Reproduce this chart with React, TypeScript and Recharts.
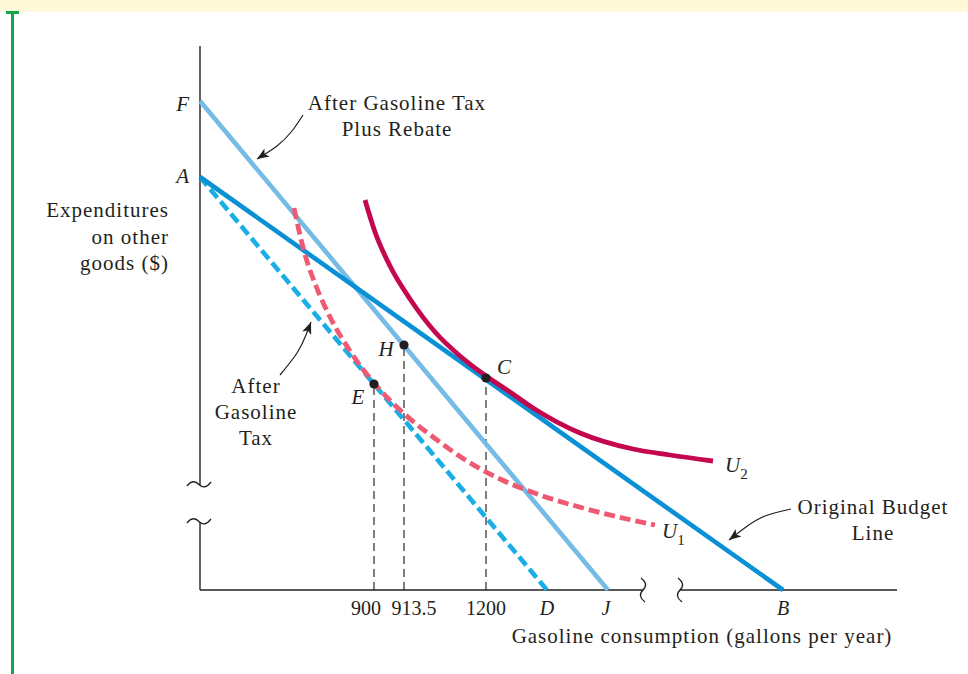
import React from 'react';
import { ComposedChart, Line, Scatter, XAxis, YAxis, Label } from 'recharts';

type Pt = { x: number; y: number };

// Schematic units read off the figure (the axes carry no real scale):
// x grows to the right from the vertical axis, y grows upward from the horizontal axis.
const originalBudgetLine: Pt[] = [{ x: 0, y: 413 }, { x: 583, y: 0 }];
const afterTaxLine: Pt[] = [{ x: 0, y: 413 }, { x: 347, y: 0 }];
const taxRebateLine: Pt[] = [{ x: 0, y: 489 }, { x: 408, y: 0 }];

const u2Curve: Pt[] = [
  { x: 165, y: 390 }, { x: 175, y: 358 }, { x: 190, y: 324 }, { x: 210, y: 291 },
  { x: 235, y: 258 }, { x: 260, y: 234 }, { x: 286, y: 214 }, { x: 310, y: 198 },
  { x: 333, y: 182 }, { x: 380, y: 157 }, { x: 433, y: 141 }, { x: 470, y: 135 },
  { x: 513, y: 129 },
];

const u1Curve: Pt[] = [
  { x: 94, y: 382 }, { x: 104, y: 339 }, { x: 116, y: 304 }, { x: 130, y: 273 },
  { x: 150, y: 239 }, { x: 174, y: 207 }, { x: 200, y: 180 }, { x: 233, y: 153 },
  { x: 267, y: 129 }, { x: 300, y: 111 }, { x: 340, y: 95 }, { x: 383, y: 82 },
  { x: 427, y: 71 }, { x: 455, y: 65 },
];

const choicePoints = [
  { x: 174, y: 206, name: 'E' },
  { x: 204, y: 245, name: 'H' },
  { x: 286, y: 212, name: 'C' },
];

const xTickValues = [174, 204, 286, 347, 408, 583];
const xTickLabels = ['900', '913.5', '1200', 'D', 'J', 'B'];
const yTickValues = [413, 489];
const yTickLabels = ['A', 'F'];

// broken axes
const yAxisUpper: Pt[] = [{ x: 0, y: 105 }, { x: 0, y: 544 }];
const yAxisLower: Pt[] = [{ x: 0, y: 0 }, { x: 0, y: 68 }];
const xAxisLeft: Pt[] = [{ x: 0, y: 0 }, { x: 443, y: 0 }];
const xAxisRight: Pt[] = [{ x: 480, y: 0 }, { x: 697, y: 0 }];
const yBreaks: Pt[] = [{ x: 0, y: 105 }, { x: 0, y: 68 }];
const xBreaks: Pt[] = [{ x: 443, y: 0 }, { x: 480, y: 0 }];

// annotations
const notes = [
  { x: 197, y: 480, lines: ['After Gasoline Tax', 'Plus Rebate'] },
  { x: 56, y: 197, lines: ['After', 'Gasoline', 'Tax'] },
  { x: 673, y: 76, lines: ['Original Budget', 'Line'] },
];
const curveLabels = [
  { x: 525, y: 118, name: '2' },
  { x: 462, y: 52, name: '1' },
];
const rebateArrow: Pt[] = [{ x: 103, y: 475 }, { x: 92, y: 459 }, { x: 77, y: 444 }, { x: 57, y: 431 }];
const taxArrow: Pt[] = [{ x: 80, y: 215 }, { x: 97, y: 237 }, { x: 106, y: 255 }, { x: 111, y: 268 }];
const budgetArrow: Pt[] = [{ x: 591, y: 81 }, { x: 565, y: 74 }, { x: 546, y: 63 }, { x: 529, y: 50 }];

const INK = '#231F20';
const SERIF = '"Liberation Serif", "Times New Roman", serif';
const wordStyle = { fontFamily: SERIF, fontSize: 21, letterSpacing: 1 };
const LINE_H = 26;

const xTickNudge: Record<string, number> = { '900': -8, '913.5': 10, J: -2 };
const yTickNudge: Record<string, number> = { A: 6, F: 10 };
const pointLabelOffset: Record<string, [number, number]> = {
  H: [-18, 11],
  E: [-16, 20],
  C: [18, -4],
};

const XTick = (p: any) => {
  const label = xTickLabels[xTickValues.indexOf(p.payload.value)] ?? '';
  const italic = /[A-Z]/.test(label);
  return (
    <text
      x={p.x + (xTickNudge[label] ?? 0)}
      y={p.y + 25}
      textAnchor="middle"
      fill={INK}
      style={{ fontFamily: SERIF, fontSize: 20, fontStyle: italic ? 'italic' : 'normal' }}
    >
      {label}
    </text>
  );
};

const YTick = (p: any) => {
  const label = yTickLabels[yTickValues.indexOf(p.payload.value)] ?? '';
  return (
    <text
      x={p.x - 11}
      y={p.y + (yTickNudge[label] ?? 6)}
      textAnchor="end"
      fill={INK}
      style={{ fontFamily: SERIF, fontSize: 21, fontStyle: 'italic' }}
    >
      {label}
    </text>
  );
};

const DotShape = (p: any) => <circle cx={p.cx} cy={p.cy} r={4.6} fill={INK} />;

const PointLabel = (p: any) => {
  const [dx, dy] = pointLabelOffset[p.payload.name] ?? [0, 0];
  return (
    <text
      x={p.cx + dx}
      y={p.cy + dy}
      textAnchor="middle"
      fill={INK}
      style={{ fontFamily: SERIF, fontSize: 21, fontStyle: 'italic' }}
    >
      {p.payload.name}
    </text>
  );
};

const NoteShape = (p: any) => (
  <text x={p.cx} y={p.cy} textAnchor="middle" fill={INK} style={wordStyle}>
    {p.payload.lines.map((ln: string, i: number) => (
      <tspan key={i} x={p.cx} dy={i === 0 ? 0 : LINE_H}>
        {ln}
      </tspan>
    ))}
  </text>
);

const CurveLabel = (p: any) => (
  <text x={p.cx} y={p.cy} fill={INK} style={{ fontFamily: SERIF, fontSize: 21 }}>
    <tspan style={{ fontStyle: 'italic' }}>U</tspan>
    <tspan dy={7} style={{ fontSize: 15 }}>
      {p.payload.name}
    </tspan>
  </text>
);

const YBreakShape = (p: any) => {
  const { cx, cy } = p;
  return (
    <path
      d={`M${cx - 13},${cy + 1} Q${cx - 7},${cy - 7} ${cx - 0.5},${cy} Q${cx + 5},${cy + 5} ${cx + 11},${cy - 3}`}
      fill="none"
      stroke={INK}
      strokeWidth={1.3}
    />
  );
};

const XBreakShape = (p: any) => {
  const { cx, cy } = p;
  return (
    <path
      d={`M${cx - 2},${cy - 12} Q${cx + 6},${cy - 6} ${cx},${cy} Q${cx - 6},${cy + 6} ${cx + 2},${cy + 12}`}
      fill="none"
      stroke={INK}
      strokeWidth={1.3}
    />
  );
};

// arrowhead drawn at the last point of an arrow path; one unit is one pixel on both axes
const arrowDot = (pts: Pt[]) => (p: any) => {
  if (p.index !== pts.length - 1) return <g key={`ad-${p.index}`} />;
  const a = pts[pts.length - 2];
  const b = pts[pts.length - 1];
  const ang = (Math.atan2(-(b.y - a.y), b.x - a.x) * 180) / Math.PI;
  return (
    <path
      key={`ah-${p.index}`}
      d="M0,0 L-12,-4.8 L-9,0 L-12,4.8 Z"
      fill={INK}
      stroke="none"
      transform={`translate(${p.cx},${p.cy}) rotate(${ang})`}
    />
  );
};

const YTitle = (p: any) => {
  const vb = p.viewBox;
  const right = vb.x + vb.width - 31;
  const top = vb.y + 172;
  return (
    <text x={right} y={top} textAnchor="end" fill={INK} style={wordStyle}>
      {['Expenditures', 'on other', 'goods ($)'].map((ln, i) => (
        <tspan key={i} x={right} dy={i === 0 ? 0 : 26.5}>
          {ln}
        </tspan>
      ))}
    </text>
  );
};

const XTitle = (p: any) => {
  const vb = p.viewBox;
  return (
    <text x={vb.x + 502} y={vb.y + 53} textAnchor="middle" fill={INK} style={wordStyle}>
      Gasoline consumption (gallons per year)
    </text>
  );
};

export default function App() {
  const segment = (data: Pt[], key: string) => (
    <Line
      key={key}
      data={data}
      dataKey="y"
      stroke={INK}
      strokeWidth={1.4}
      dot={false}
      activeDot={false}
      isAnimationActive={false}
    />
  );

  return (
    <div style={{ position: 'absolute', left: 0, top: 0, width: 968, height: 674, background: '#fff' }}>
      <div style={{ position: 'absolute', left: 0, top: 0, width: 968, height: 12, background: '#FFF9D9' }} />
      <div style={{ position: 'absolute', left: 11, top: 12, width: 2.5, height: 662, background: '#10A84A' }} />
      <div style={{ position: 'absolute', left: 6, top: 11, width: 13, height: 2.5, background: '#10A84A' }} />
      <div style={{ position: 'absolute', left: 0, top: 0 }}>
        <ComposedChart width={968} height={674} margin={{ top: 45, right: 70, bottom: 0, left: 0 }}>
          <XAxis
            type="number"
            dataKey="x"
            domain={[0, 698]}
            ticks={xTickValues}
            interval={0}
            height={84}
            axisLine={false}
            tickLine={false}
            tickSize={0}
            tickMargin={0}
            tick={XTick}
          >
            <Label content={XTitle} />
          </XAxis>
          <YAxis
            type="number"
            domain={[0, 545]}
            ticks={yTickValues}
            interval={0}
            width={200}
            axisLine={false}
            tickLine={false}
            tickSize={0}
            tickMargin={0}
            tick={YTick}
          >
            <Label content={YTitle} />
          </YAxis>

          {choicePoints.map((pt) => (
            <Line
              key={`drop-${pt.name}`}
              data={[{ x: pt.x, y: 0 }, { x: pt.x, y: pt.y }]}
              dataKey="y"
              stroke="#3a3a3a"
              strokeWidth={1.3}
              strokeDasharray="8 5"
              dot={false}
              activeDot={false}
              isAnimationActive={false}
            />
          ))}

          {segment(yAxisUpper, 'ya1')}
          {segment(yAxisLower, 'ya2')}
          {segment(xAxisLeft, 'xa1')}
          {segment(xAxisRight, 'xa2')}

          <Line data={taxRebateLine} dataKey="y" stroke="#74BBE6" strokeWidth={4.6} dot={false} activeDot={false} isAnimationActive={false} />
          <Line data={afterTaxLine} dataKey="y" stroke="#19AEE6" strokeWidth={4.6} strokeDasharray="11 5" dot={false} activeDot={false} isAnimationActive={false} />
          <Line data={originalBudgetLine} dataKey="y" stroke="#0A91D5" strokeWidth={4.6} dot={false} activeDot={false} isAnimationActive={false} />
          <Line data={u2Curve} type="monotone" dataKey="y" stroke="#C3084F" strokeWidth={4.8} dot={false} activeDot={false} isAnimationActive={false} />
          <Line data={u1Curve} type="monotone" dataKey="y" stroke="#EF5A73" strokeWidth={4.8} strokeDasharray="11 5" dot={false} activeDot={false} isAnimationActive={false} />

          <Line data={rebateArrow} type="natural" dataKey="y" stroke={INK} strokeWidth={1.2} dot={arrowDot(rebateArrow)} activeDot={false} isAnimationActive={false} />
          <Line data={taxArrow} type="natural" dataKey="y" stroke={INK} strokeWidth={1.2} dot={arrowDot(taxArrow)} activeDot={false} isAnimationActive={false} />
          <Line data={budgetArrow} type="natural" dataKey="y" stroke={INK} strokeWidth={1.2} dot={arrowDot(budgetArrow)} activeDot={false} isAnimationActive={false} />

          <Scatter data={yBreaks} dataKey="y" shape={YBreakShape} isAnimationActive={false} />
          <Scatter data={xBreaks} dataKey="y" shape={XBreakShape} isAnimationActive={false} />
          <Scatter data={choicePoints} dataKey="y" shape={DotShape} isAnimationActive={false} />
          <Scatter data={choicePoints} dataKey="y" shape={PointLabel} isAnimationActive={false} />
          <Scatter data={notes} dataKey="y" shape={NoteShape} isAnimationActive={false} />
          <Scatter data={curveLabels} dataKey="y" shape={CurveLabel} isAnimationActive={false} />
        </ComposedChart>
      </div>
    </div>
  );
}
